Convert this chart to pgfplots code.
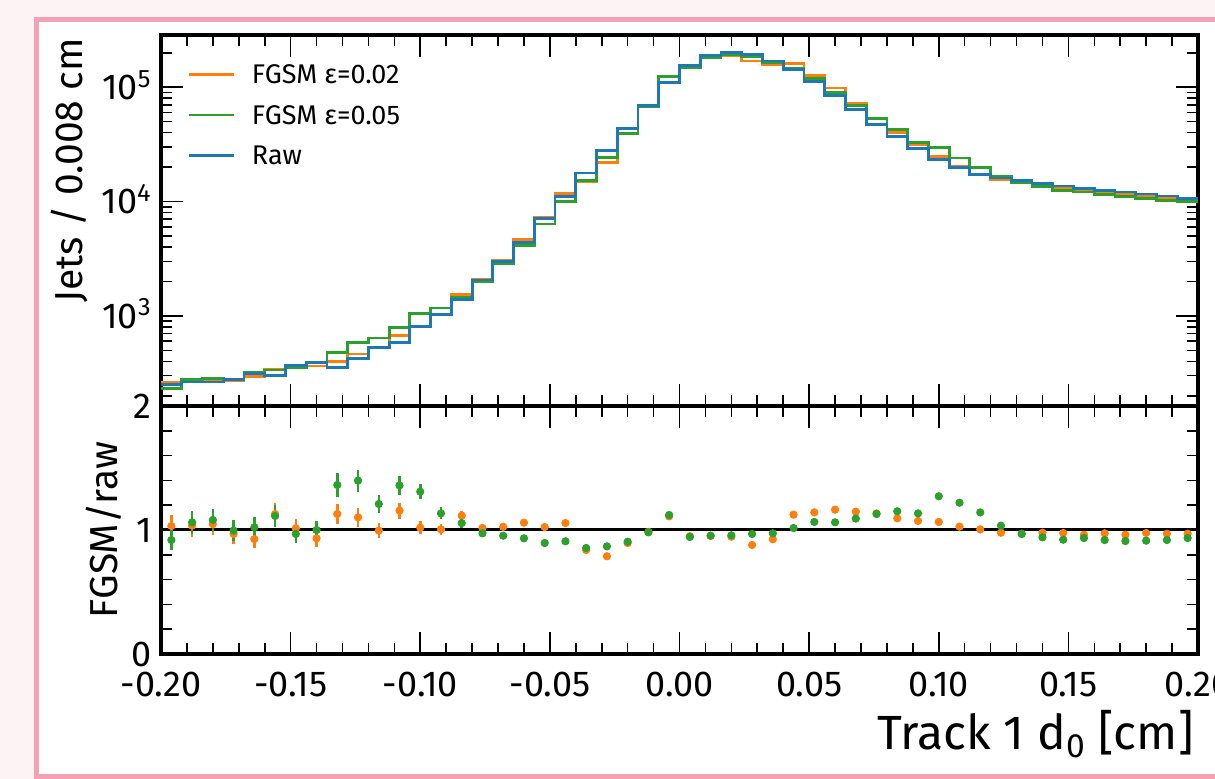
\documentclass[border=0pt]{standalone}
\usepackage{fontspec}
\setmainfont{Fira Sans}
\usepackage{pgfplots}
\pgfplotsset{compat=1.18}
\usepackage{pgfplotstable}
\definecolor{cO}{HTML}{FF7F0E}
\definecolor{cG}{HTML}{2CA02C}
\definecolor{cB}{HTML}{1F77B4}
\definecolor{bgpink}{HTML}{FEF3F4}
\definecolor{framepink}{HTML}{F2A2B4}

\pgfplotstableread{
x raw o g
-0.200 253 261 232
-0.192 264 273 280
-0.184 264 277 285
-0.176 280 271 279
-0.168 316 293 323
-0.160 303 342 337
-0.152 366 371 354
-0.144 391 365 391
-0.136 354 400 482
-0.128 421 464 589
-0.120 529 526 640
-0.112 581 672 790
-0.104 802 817 1050
-0.096 1035 1040 1174
-0.088 1380 1540 1457
-0.080 2062 2095 2006
-0.072 3005 3083 2867
-0.064 4400 4660 4105
-0.056 7117 7288 6370
-0.048 11090 11711 10081
-0.040 17740 14884 15168
-0.032 27970 22040 24278
-0.024 43500 38933 39411
-0.016 68700 67670 67395
-0.008 110600 122766 123983
0.000 155600 147820 146886
0.008 190200 181070 181451
0.016 200600 189768 191974
0.024 192600 169295 186437
0.032 169700 156973 165118
0.040 143600 161406 145898
0.048 111200 126990 118428
0.056 84500 98358 89739
0.064 63400 72783 69233
0.072 47500 53865 53628
0.080 36800 40259 42357
0.088 29100 31224 32999
0.096 23200 24708 29510
0.104 19700 20232 24034
0.112 17260 17346 19711
0.120 16040 15687 16601
0.128 15200 14744 14714
0.136 14400 14083 13550
0.144 13650 13322 12585
0.152 12940 12448 12099
0.160 12500 12163 11488
0.168 12100 11640 11023
0.176 11620 11341 10621
0.184 11170 10835 10265
0.192 10640 10321 9948
0.200 10640 10321 9948
}\hist

\pgfplotstableread{
x ro eo rg eg
-0.196 1.032 0.091 0.919 0.084
-0.188 1.035 0.089 1.062 0.091
-0.180 1.048 0.090 1.081 0.092
-0.172 0.968 0.082 0.995 0.084
-0.164 0.927 0.075 1.022 0.081
-0.156 1.129 0.089 1.113 0.088
-0.148 1.013 0.075 0.968 0.072
-0.140 0.933 0.068 1.000 0.072
-0.132 1.129 0.082 1.363 0.095
-0.124 1.102 0.074 1.398 0.089
-0.116 0.995 0.061 1.210 0.071
-0.108 1.156 0.065 1.360 0.074
-0.100 1.019 0.051 1.309 0.061
-0.092 1.005 0.044 1.134 0.048
-0.084 1.116 0.041 1.056 0.040
-0.076 1.016 0.032 0.973 0.031
-0.068 1.026 0.026 0.954 0.025
-0.060 1.059 0.022 0.933 0.020
-0.052 1.024 0.017 0.895 0.015
-0.044 1.056 0.014 0.909 0.013
-0.036 0.839 0.009 0.855 0.009
-0.028 0.788 0.007 0.868 0.008
-0.020 0.895 0.006 0.906 0.006
-0.012 0.985 0.005 0.981 0.005
-0.004 1.110 0.005 1.121 0.005
0.004 0.950 0.003 0.944 0.003
0.012 0.952 0.003 0.954 0.003
0.020 0.946 0.003 0.957 0.003
0.028 0.879 0.003 0.968 0.003
0.036 0.925 0.003 0.973 0.003
0.044 1.124 0.004 1.016 0.004
0.052 1.142 0.005 1.065 0.004
0.060 1.164 0.006 1.062 0.005
0.068 1.148 0.006 1.092 0.006
0.076 1.134 0.007 1.129 0.007
0.084 1.094 0.008 1.151 0.008
0.092 1.073 0.009 1.134 0.009
0.100 1.065 0.010 1.272 0.011
0.108 1.027 0.010 1.220 0.012
0.116 1.005 0.011 1.142 0.012
0.124 0.978 0.011 1.035 0.011
0.132 0.970 0.011 0.968 0.011
0.140 0.978 0.012 0.941 0.011
0.148 0.976 0.012 0.922 0.011
0.156 0.962 0.012 0.935 0.012
0.164 0.973 0.012 0.919 0.012
0.172 0.962 0.013 0.911 0.012
0.180 0.976 0.013 0.914 0.012
0.188 0.970 0.013 0.919 0.013
0.196 0.970 0.013 0.935 0.013
}\ratio

\pgfplotsset{myax/.style={
  scale only axis,
  tick align=inside,
  xtick pos=both, ytick pos=both,
  axis line style={line width=1.6pt},
  tick style={black, line width=0.8pt},
  major tick length=11pt, minor tick length=5.5pt,
  tick label style={font=\fontsize{18}{21}\selectfont, inner sep=0pt},
  xticklabel style={anchor=north, yshift=-9pt},
  yticklabel style={anchor=base east, xshift=-4.5pt, yshift=-6.2pt},
  xmin=-0.2, xmax=0.2,
  xtick={-0.2,-0.15,-0.1,-0.05,0,0.05,0.1,0.15,0.2},
  minor x tick num=4,
}}

\begin{document}
\begin{tikzpicture}
\useasboundingbox (0,0) rectangle (607.5pt,-389.5pt);
\fill[bgpink] (0,0) rectangle (607.5pt,-389.5pt);
\draw[framepink, line width=2.5pt, fill=white] (18.25pt,-9.75pt) rectangle (620pt,-388.25pt);

\begin{axis}[myax,
  at={(80.5pt,-17.5pt)}, anchor=north west,
  width=518.5pt, height=185.5pt,
  ymode=log, ymin=163, ymax=2.86e5,
  xticklabels={},
  ytick={1000,10000,100000},
  yticklabels={10\textsuperscript{3},10\textsuperscript{4},10\textsuperscript{5}},
  minor ytick={200,300,400,500,600,700,800,900,2000,3000,4000,5000,6000,7000,8000,9000,20000,30000,40000,50000,60000,70000,80000,90000,200000},
  ylabel={Jets / 0.008 cm},
  ylabel style={at={(axis description cs:-0.0887,0.992)}, anchor=east, inner sep=0pt, font=\fontsize{19.5}{23}\selectfont},
  legend style={at={(axis description cs:0.0256,0.919)}, anchor=north west, draw=none, fill=none, inner sep=0pt, outer sep=0pt, font=\fontsize{13.5}{16}\selectfont, row sep=11pt, nodes={inner sep=0pt, text height=9.3pt, text depth=0pt}},
  legend cell align=left,
  legend image code/.code={\draw[#1, line width=1.4pt] (0pt,0pt) -- (22.5pt,0pt); \path[draw=none] (0pt,0pt) -- (31.5pt,0pt);},
]
\addplot[const plot, cO, line width=1.4pt] table[x=x, y=o] {\hist};
\addlegendentry{FGSM ε=0.02}
\addplot[const plot, cG, line width=1.4pt] table[x=x, y=g] {\hist};
\addlegendentry{FGSM ε=0.05}
\addplot[const plot, cB, line width=1.4pt] table[x=x, y=raw] {\hist};
\addlegendentry{Raw}
\end{axis}

\begin{axis}[myax,
  at={(80.5pt,-203pt)}, anchor=north west,
  width=518.5pt, height=124pt,
  ymin=0, ymax=2,
  ytick={0,1,2}, yticklabels={0,1,2},
  minor y tick num=4,
  xticklabels={-0.20,-0.15,-0.10,-0.05,0.00,0.05,0.10,0.15,0.20},
  xlabel={Track 1 d\textsubscript{0} [cm]},
  xlabel style={at={(axis description cs:0.996,-0.387)}, anchor=base east, inner sep=0pt, font=\fontsize{24}{28}\selectfont},
  ylabel={FGSM/raw},
  ylabel style={at={(axis description cs:-0.055,0.5)}, anchor=center, inner sep=0pt, font=\fontsize{19.5}{23}\selectfont},
]
\addplot[black, line width=1.5pt, forget plot] coordinates {(-0.2,1) (0.2,1)};
\addplot[cO, only marks, mark=*, mark size=1.85pt,
  error bars/.cd, y dir=both, y explicit, error mark=none,
  error bar style={line width=1.25pt, cO}]
  table[x=x, y=ro, y error=eo] {\ratio};
\addplot[cG, only marks, mark=*, mark size=1.85pt,
  error bars/.cd, y dir=both, y explicit, error mark=none,
  error bar style={line width=1.25pt, cG}]
  table[x=x, y=rg, y error=eg] {\ratio};
\end{axis}
\end{tikzpicture}
\end{document}
